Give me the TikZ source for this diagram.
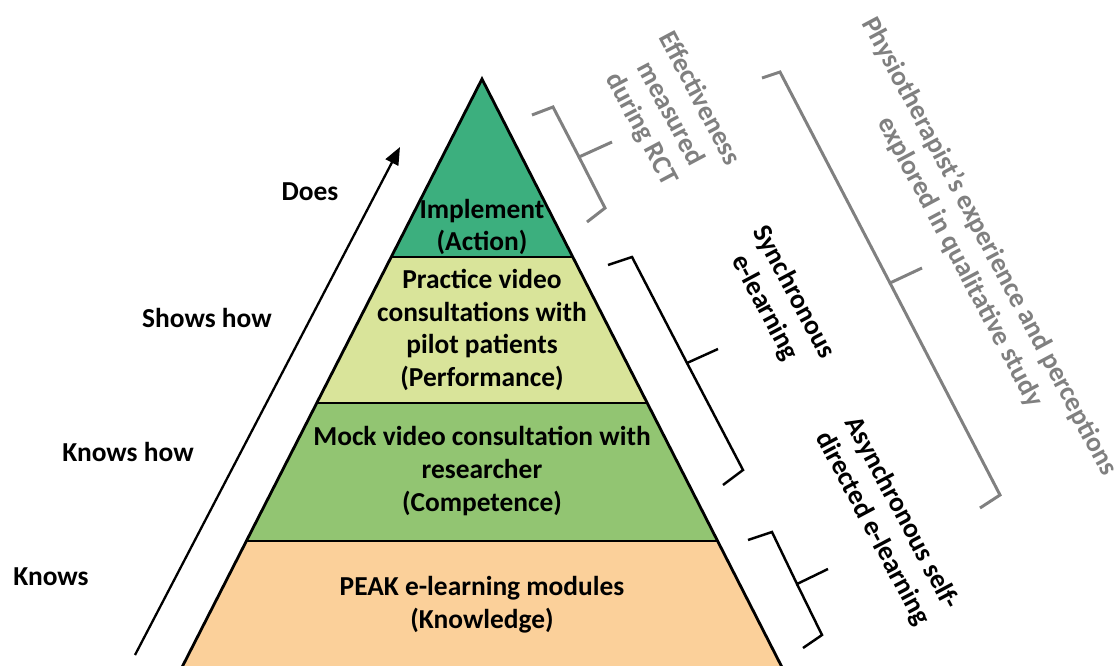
\documentclass[tikz,border=0pt]{standalone}
\usepackage{fontspec}
\setmainfont{Carlito}
\usetikzlibrary{arrows.meta}
\definecolor{actiongreen}{RGB}{60,175,126}
\definecolor{perfyellow}{RGB}{217,228,154}
\definecolor{compgreen}{RGB}{146,197,114}
\definecolor{knowpeach}{RGB}{251,208,154}
\definecolor{bracegray}{RGB}{128,128,128}
\tikzset{
  layer/.style={draw=black, line width=1.6pt, line join=miter},
  tiertext/.style={align=center, inner sep=0pt, font=\bfseries\fontsize{15.6}{18.7}\selectfont},
  notetext/.style={tiertext, text=bracegray, rotate=-62},
  learntext/.style={tiertext, rotate=-62},
  bracket/.style={line width=1.4pt, line join=miter},
  graybracket/.style={bracket, draw=bracegray, line width=1.7pt}
}
\begin{document}
\begin{tikzpicture}[x=0.02cm,y=0.02cm]
\useasboundingbox (0,0) rectangle (1120,-666);
\clip (0,0) rectangle (1120,-666);
% pyramid layers
\fill [actiongreen] (482,-79) -- (572.8,-257) -- (391.2,-257) -- cycle;
\fill [perfyellow] (391.2,-257) -- (572.8,-257) -- (647.2,-403) -- (316.8,-403) -- cycle;
\fill [compgreen] (316.8,-403) -- (647.2,-403) -- (717.6,-541) -- (246.4,-541) -- cycle;
\fill [knowpeach] (246.4,-541) -- (717.6,-541) -- (798.7,-700) -- (165.3,-700) -- cycle;
\draw [layer] (391.2,-257) -- (572.8,-257);
\draw [layer] (316.8,-403) -- (647.2,-403);
\draw [layer] (246.4,-541) -- (717.6,-541);
\draw [layer] (165.3,-700) -- (482,-79) -- (798.7,-700);
\node [tiertext] (action) at (482,-227) {Implement\\(Action)};
\node [tiertext] (performance) at (482,-330) {Practice video\\consultations with\\pilot patients\\(Performance)};
\node [tiertext] (competence) at (482,-471) {Mock video consultation with\\researcher\\(Competence)};
\node [tiertext] (knowledge) at (482,-605) {PEAK e-learning modules\\(Knowledge)};
% Miller levels
\node [tiertext] (does) at (310,-192) {Does};
\node [tiertext] (showshow) at (207,-318) {Shows how};
\node [tiertext] (knowshow) at (128,-452) {Knows how};
\node [tiertext] (knows) at (51,-577) {Knows};
\coordinate (arrowtail) at (135,-655);
\coordinate (arrowtip) at (400,-147);
\draw [-{Triangle[length=10pt,width=8pt]}, line width=1.3pt] (arrowtail) -- (arrowtip);
% brackets
\draw [graybracket] (532,-115) -- (553,-107) -- (579,-157) -- (612,-142);
\draw [graybracket] (579,-157) -- (605,-208) -- (587,-222);
\draw [graybracket] (762,-78) -- (780,-72) -- (890,-283) -- (922,-268);
\draw [graybracket] (890,-283) -- (1000,-495) -- (980,-508);
\draw [bracket] (608,-265) -- (632,-257) -- (687,-363) -- (718,-349);
\draw [bracket] (687,-363) -- (743,-470) -- (723,-485);
\draw [bracket] (748,-540) -- (772,-532) -- (797,-584) -- (828,-569);
\draw [bracket] (797,-584) -- (822,-635) -- (803,-648);
\node [notetext] (rct) at (670,-114) {Effectiveness\\measured\\during RCT};
\node [notetext] (qualitative) at (975,-254) {Physiotherapist’s experience and perceptions\\explored in qualitative study};
\node [learntext] (sync) at (779,-300) {Synchronous\\e-learning};
\node [learntext] (async) at (887,-521) {Asynchronous self-\\directed e-learning};
\end{tikzpicture}
\end{document}
